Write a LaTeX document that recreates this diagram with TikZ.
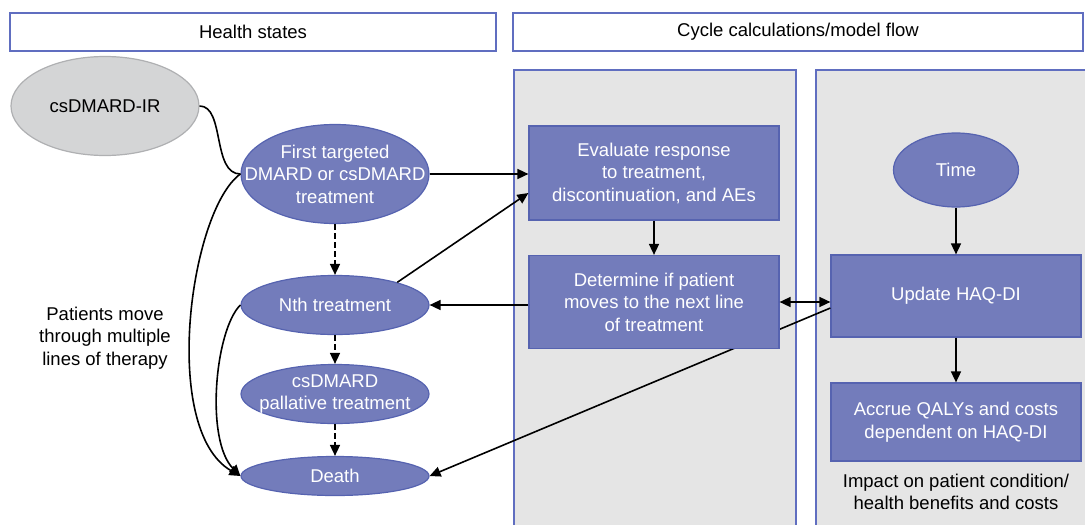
\documentclass[tikz,border=0pt]{standalone}
\usepackage{fontspec}
\setmainfont{Liberation Sans}
\usetikzlibrary{shapes.geometric,arrows.meta}

\definecolor{boxfill}{RGB}{115,124,187}
\definecolor{boxedge}{RGB}{86,99,176}
\definecolor{paneledge}{RGB}{96,110,192}
\definecolor{panelgray}{RGB}{229,229,229}
\definecolor{irfill}{RGB}{212,213,214}
\definecolor{iredge}{RGB}{175,176,178}

\begin{document}
\begin{tikzpicture}[x=1pt, y=-1pt, font=\fontsize{18.5}{22.5}\selectfont,
  >={Triangle[length=11pt,width=10pt]},
  head/.style={draw=paneledge, line width=1.5pt, fill=white, minimum height=38},
  panel/.style={draw=paneledge, line width=1.5pt, fill=panelgray, anchor=north west, minimum height=470},
  state/.style={ellipse, draw=boxedge, line width=1.2pt, fill=boxfill, text=white, align=center, inner xsep=-40pt, inner ysep=0pt, minimum width=188},
  proc/.style={draw=boxedge, line width=1.2pt, fill=boxfill, text=white, align=center, minimum width=250},
  flow/.style={->, line width=1.6pt},
  dflow/.style={flow, dash pattern=on 6pt off 3pt}]
	\useasboundingbox (0,0) rectangle (1085,525);

	% columns
	\node[head, minimum width=486] (hs) at (253,32) {Health states};
	\node[head, minimum width=570] (cyc) at (798,32) {Cycle calculations/model flow};
	\node[panel, minimum width=282] (lpanel) at (513,69) {};
	\node[panel, minimum width=285] (rpanel) at (815,69) {};

	% health states
	\node[state, draw=iredge, fill=irfill, text=black, minimum height=99] (ir) at (105,106) {csDMARD-IR};
	\node[state, minimum height=99] (first) at (335,174) {First targeted\\DMARD or csDMARD\\treatment};
	\node[state, minimum height=59] (nth) at (335,305) {Nth treatment};
	\node[state, minimum height=59] (pall) at (335,394) {csDMARD\\pallative treatment};
	\node[state, minimum height=39] (death) at (335,476) {Death};
	\node[align=center] (moves) at (105,338) {Patients move\\through multiple\\lines of therapy};

	% model flow
	\node[proc, minimum height=94] (eval) at (654,173) {Evaluate response\\to treatment,\\discontinuation, and AEs};
	\node[state, minimum width=125, minimum height=74] (time) at (956,170) {Time};
	\node[proc, minimum height=82] (upd) at (956,296) {Update HAQ-DI};
	\node[proc, minimum height=78] (accr) at (956,422) {Accrue QALYs and costs\\dependent on HAQ-DI};
	\node[align=center] (impact) at (956,492) {Impact on patient condition/\\health benefits and costs};

	\draw[flow] ([yshift=-12pt]upd.west) -- (death.east);
	\node[proc, minimum height=93] (det) at (654,302) {Determine if patient\\moves to the next line\\of treatment};

	\draw[line width=1.6pt] (ir.east) .. controls (225,106) and (212,174) .. (first.west);
	\draw[flow] (first.east) -- (first.east -| eval.west);
	\draw[flow] (nth.20) -- ([yshift=-20pt]eval.west);
	\draw[dflow] (first.south) -- (nth.north);
	\draw[dflow] (nth.south) -- (pall.north);
	\draw[dflow] (pall.south) -- (death.north);
	\draw[flow] (first.west) .. controls (190,210) and (160,430) .. (death.west);
	\draw[flow] (nth.west) .. controls (215,330) and (205,440) .. (death.west);
	\draw[flow] (det.west |- nth.east) -- (nth.east);
	\draw[flow] (eval.south) -- (det.north);
	\draw[flow, <->] (det.east) -- (det.east -| upd.west);
	\draw[flow] (time.south) -- (upd.north);
	\draw[flow] (upd.south) -- (accr.north);
\end{tikzpicture}
\end{document}
